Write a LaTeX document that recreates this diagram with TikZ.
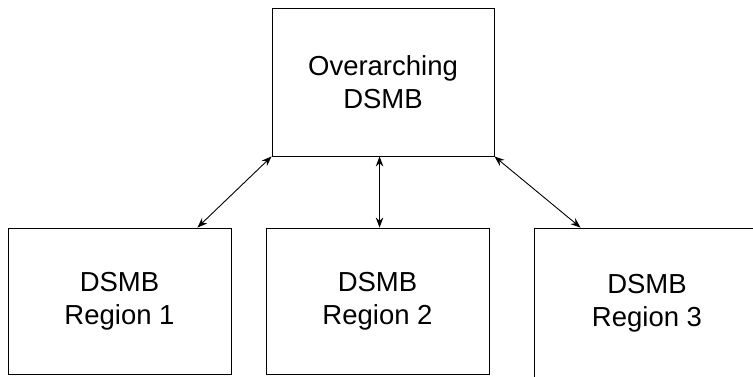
\documentclass[tikz,border=0pt]{standalone}
\usepackage{fontspec}
\setmainfont{Liberation Sans}
\usetikzlibrary{arrows.meta,calc}
\begin{document}
\begin{tikzpicture}[x=1pt,y=-1pt,
  box/.style={draw=black,line width=0.9pt,inner sep=0pt,align=center,
    font=\fontsize{27.5}{33}\selectfont},
  link/.style={line width=0.9pt,{Stealth[length=10pt,width=7.5pt]}-{Stealth[length=10pt,width=7.5pt]}}]
\useasboundingbox (0,0) rectangle (753,376);
\clip (0,0) rectangle (753,376);
\node[box,minimum width=222pt,minimum height=148pt] (top) at (383,82) {Overarching\\DSMB};
\node[box,minimum width=223pt,minimum height=146pt] (r1) at (119.5,301) {DSMB\\Region 1};
\node[box,minimum width=223pt,minimum height=146pt] (r2) at (377.5,301) {DSMB\\Region 2};
\node[box,minimum width=226pt,minimum height=150pt] (r3) at (647,303) {DSMB\\Region 3};
\coordinate (e1) at ($(r1.north east)+(-34,0)$);
\coordinate (e3) at ($(r3.north west)+(47,0)$);
\coordinate (t2) at ($(top.south west)+(108,0)$);
\coordinate (b2) at (t2 |- r2.north);
\draw[link] (top.south west) -- (e1);
\draw[link] (t2) -- (b2);
\draw[link] (top.south east) -- (e3);
\end{tikzpicture}
\end{document}
